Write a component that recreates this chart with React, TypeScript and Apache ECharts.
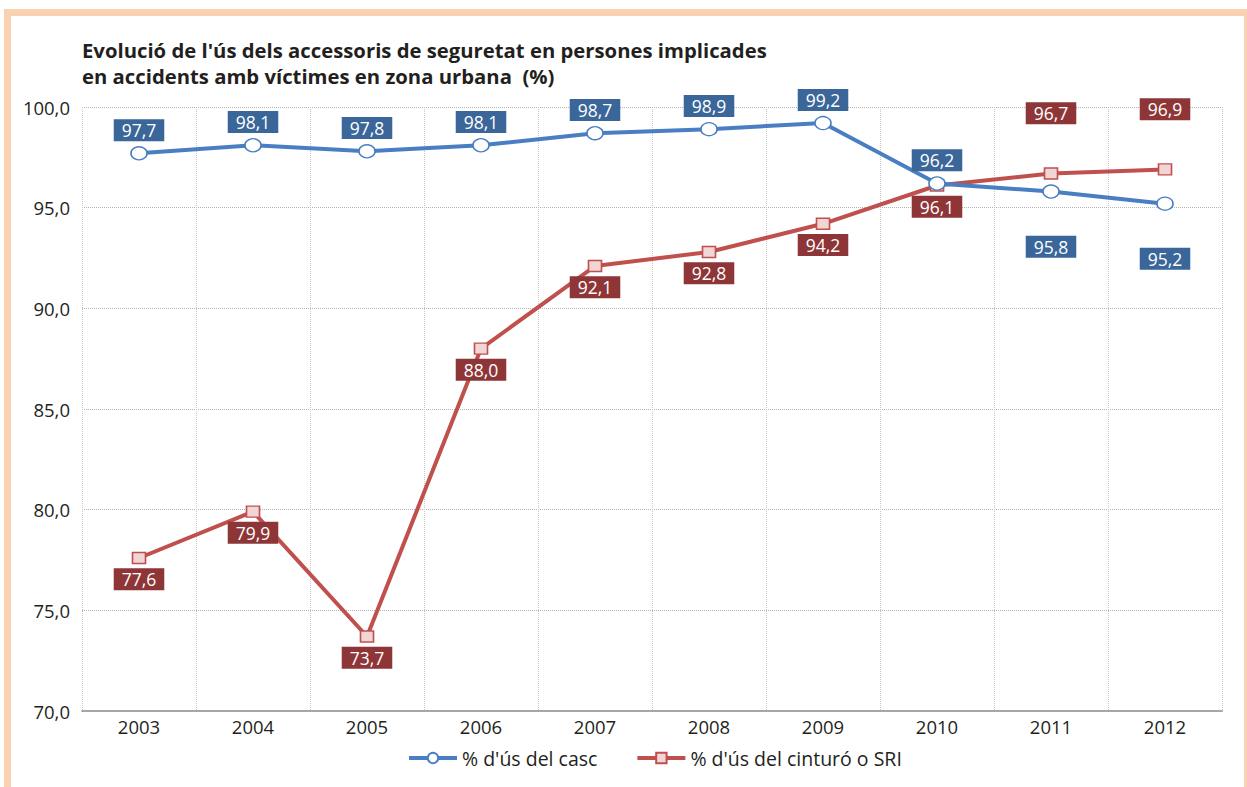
import React, { useEffect, useRef } from "react";
import * as echarts from "echarts";

const years = ["2003", "2004", "2005", "2006", "2007", "2008", "2009", "2010", "2011", "2012"];
const casc = [97.7, 98.1, 97.8, 98.1, 98.7, 98.9, 99.2, 96.2, 95.8, 95.2];
const cinturo = [77.6, 79.9, 73.7, 88.0, 92.1, 92.8, 94.2, 96.1, 96.7, 96.9];
const cascName = "% d'ús del casc";
const cinturoName = "% d'ús del cinturó o SRI";
const titleText = "Evolució de l'ús dels accessoris de seguretat en persones implicades\nen accidents amb víctimes en zona urbana  (%)";

const FONT = "'Open Sans', 'Noto Sans', sans-serif";
const fmt = (v: number) => v.toFixed(1).replace(".", ",");

export default function App() {
  const ref = useRef<HTMLDivElement>(null);
  useEffect(() => {
    const chart = echarts.init(ref.current!, undefined, { renderer: "svg" });
    const labelBase = {
      show: true,
      color: "#ffffff",
      fontSize: 17.5,
      fontFamily: FONT,
      lineHeight: 18,
      padding: [2, 8, 2, 8],
      formatter: (p: any) => fmt(p.value),
    };
    const cascData = casc.map((v, i) => ({
      value: v,
      label: i >= 8 ? { position: "bottom", distance: 37 } : { position: "top", distance: 5 },
    }));
    const cinturoData = cinturo.map((v, i) => ({
      value: v,
      label: i >= 8 ? { position: "top", distance: 43 } : { position: "bottom", distance: 4 },
    }));
    chart.setOption({
      animation: false,
      textStyle: { fontFamily: FONT },
      graphic: [
        {
          type: "rect",
          shape: { x: 7.5, y: 12.5, width: 1240, height: 800 },
          style: { fill: "none", stroke: "#F9D3AF", lineWidth: 7 },
          silent: true,
        },
      ],
      title: {
        text: titleText,
        left: 77,
        top: 32,
        padding: 5,
        textStyle: {
          fontFamily: FONT,
          fontSize: 20.3,
          fontWeight: "bold",
          lineHeight: 26,
          color: "#231F20",
        },
      },
      legend: {
        bottom: 14,
        left: 402,
        data: [cascName, cinturoName],
        itemWidth: 48,
        itemHeight: 13,
        itemGap: 38,
        lineStyle: { width: 4 },
        textStyle: { fontFamily: FONT, fontSize: 19.5, color: "#231F20" },
      },
      grid: { left: 82, right: 25, top: 107, bottom: 76, containLabel: false },
      xAxis: {
        type: "category",
        data: years,
        boundaryGap: true,
        axisLine: { show: true, lineStyle: { color: "#A6A6A6", width: 2 } },
        axisTick: { show: false },
        axisLabel: { fontSize: 18.5, color: "#231F20", fontFamily: FONT, margin: 6 },
        splitLine: { show: true, lineStyle: { color: "#C8C8C8", type: "dotted", width: 1 } },
      },
      yAxis: {
        type: "value",
        min: 70,
        max: 100,
        interval: 5,
        axisLine: { show: false },
        axisTick: { show: false },
        axisLabel: {
          fontSize: 18.5,
          color: "#231F20",
          fontFamily: FONT,
          margin: 12,
          formatter: (v: number) => fmt(v),
        },
        splitLine: { show: true, lineStyle: { color: "#B4B4B4", type: "dotted", width: 1 } },
      },
      series: [
        {
          name: cinturoName,
          type: "line",
          data: cinturoData,
          symbol: "rect",
          symbolSize: [13, 11],
          lineStyle: { color: "#C0504D", width: 4 },
          itemStyle: { color: "#F2D5D5", borderColor: "#C0504D", borderWidth: 1.5 },
          label: { ...labelBase, backgroundColor: "#8E3537" },
          z: 2,
        },
        {
          name: cascName,
          type: "line",
          data: cascData,
          symbol: "circle",
          symbolSize: [16, 13],
          lineStyle: { color: "#4A7EC2", width: 4 },
          itemStyle: { color: "#ffffff", borderColor: "#4A7EC2", borderWidth: 1.5 },
          label: { ...labelBase, backgroundColor: "#3A6699" },
          z: 3,
        },
      ],
    });
    return () => chart.dispose();
  }, []);
  return (
    <div
      ref={ref}
      style={{ position: "absolute", left: 0, top: 0, width: 1247, height: 787, background: "#fff" }}
    />
  );
}
